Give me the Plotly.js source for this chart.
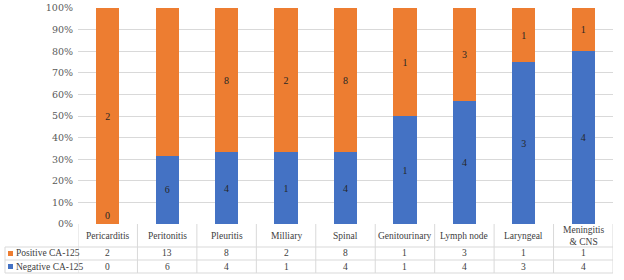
<!DOCTYPE html>
<html><head><meta charset="utf-8">
<script src="https://cdn.plot.ly/plotly-3.0.1.min.js"></script>
<style>html,body{margin:0;padding:0;background:#fff}#chart{width:624px;height:280px}</style>
</head><body><div id="chart"></div>
<script>
const categories = ["Pericarditis","Peritonitis","Pleuritis","Milliary","Spinal","Genitourinary","Lymph node","Laryngeal","Meningitis<br>& CNS"];
const positive = [2,13,8,2,8,1,3,1,1];
const negative = [0,6,4,1,4,1,4,3,4];
const seriesNames = ["Positive CA-125","Negative CA-125"];
const colors = {pos:"#ED7D31", neg:"#4472C4"};

const idx = categories.map((_, i) => i);
const serif = "Liberation Serif, serif";
const labelFont = {family: serif, size: 10, color: "#262626"};

const traces = [
  {type:"bar", name:seriesNames[1], x:idx, y:negative, marker:{color:colors.neg},
   text:negative.map(String), textposition:"inside", insidetextanchor:"middle",
   textfont:labelFont, hoverinfo:"none", cliponaxis:false},
  {type:"bar", name:seriesNames[0], x:idx, y:positive, marker:{color:colors.pos},
   text:positive.map(String), textposition:"inside", insidetextanchor:"middle",
   textfont:labelFont, hoverinfo:"none", cliponaxis:false}
];

const H = 216; // plot height px
const py = px => -(px - 224) / H;
const W = 535;
const pxX = px => (px - 78) / W;
const border = "#d9d9d9";
const shapes = [];
const annotations = [];

// table horizontal lines
[247, 260, 273].forEach(p => shapes.push({type:"line", xref:"paper", yref:"paper",
  x0:pxX(5), x1:1, y0:py(p), y1:py(p), line:{color:border, width:1}}));
// vertical lines
for (let i = 0; i <= categories.length; i++) {
  shapes.push({type:"line", xref:"x", yref:"paper", x0:i-0.5, x1:i-0.5,
    y0:py(224), y1:py(273), line:{color:border, width:1}});
}
shapes.push({type:"line", xref:"paper", yref:"paper", x0:pxX(5), x1:pxX(5),
  y0:py(247), y1:py(273), line:{color:border, width:1}});

// legend squares
[[colors.pos, 253.5],[colors.neg, 266.5]].forEach(([c, yc]) => shapes.push({type:"rect",
  xref:"paper", yref:"paper", x0:pxX(8), x1:pxX(13), y0:py(yc-2.5), y1:py(yc+2.5),
  fillcolor:c, line:{width:0}}));
annotations.push({xref:"paper", yref:"paper", x:pxX(13.5), y:py(253.5), xanchor:"left", yanchor:"middle",
  text:seriesNames[0], showarrow:false, font:{family:serif, size:9.5, color:"#404040"}});
annotations.push({xref:"paper", yref:"paper", x:pxX(13.5), y:py(266.5), xanchor:"left", yanchor:"middle",
  text:seriesNames[1], showarrow:false, font:{family:serif, size:9.5, color:"#404040"}});

categories.forEach((c, i) => {
  annotations.push({xref:"x", yref:"paper", x:i, y:py(235.5), yanchor:"middle", text:c,
    showarrow:false, font:{family:serif, size:9.5, color:"#404040"}});
  annotations.push({xref:"x", yref:"paper", x:i, y:py(253.5), yanchor:"middle", text:String(positive[i]),
    showarrow:false, font:{family:serif, size:9.5, color:"#404040"}});
  annotations.push({xref:"x", yref:"paper", x:i, y:py(266.5), yanchor:"middle", text:String(negative[i]),
    showarrow:false, font:{family:serif, size:9.5, color:"#404040"}});
});
// zero-valued segment labels
negative.forEach((v, i) => { if (v === 0) annotations.push({xref:"x", yref:"y", x:i, y:0,
  yanchor:"bottom", yshift:1, text:"0", showarrow:false, font:labelFont}); });

const layout = {
  width:624, height:280,
  margin:{l:78, r:11, t:8, b:56},
  paper_bgcolor:"#fff", plot_bgcolor:"#fff",
  barmode:"stack", barnorm:"percent", bargap:0.61,
  showlegend:false,
  xaxis:{type:"linear", range:[-0.5, categories.length-0.5], showticklabels:false,
    showgrid:false, zeroline:false, showline:false, fixedrange:true},
  yaxis:{range:[0,100], dtick:10, ticksuffix:"%", gridcolor:border, gridwidth:1,
    zeroline:false, showline:false, ticks:"", ticklabelstandoff:4,
    tickfont:{family:"DejaVu Serif, serif", size:9.5, color:"#595959"}, fixedrange:true},
  shapes, annotations
};
Plotly.newPlot("chart", traces, layout, {displayModeBar:false, staticPlot:true});
</script></body></html>
